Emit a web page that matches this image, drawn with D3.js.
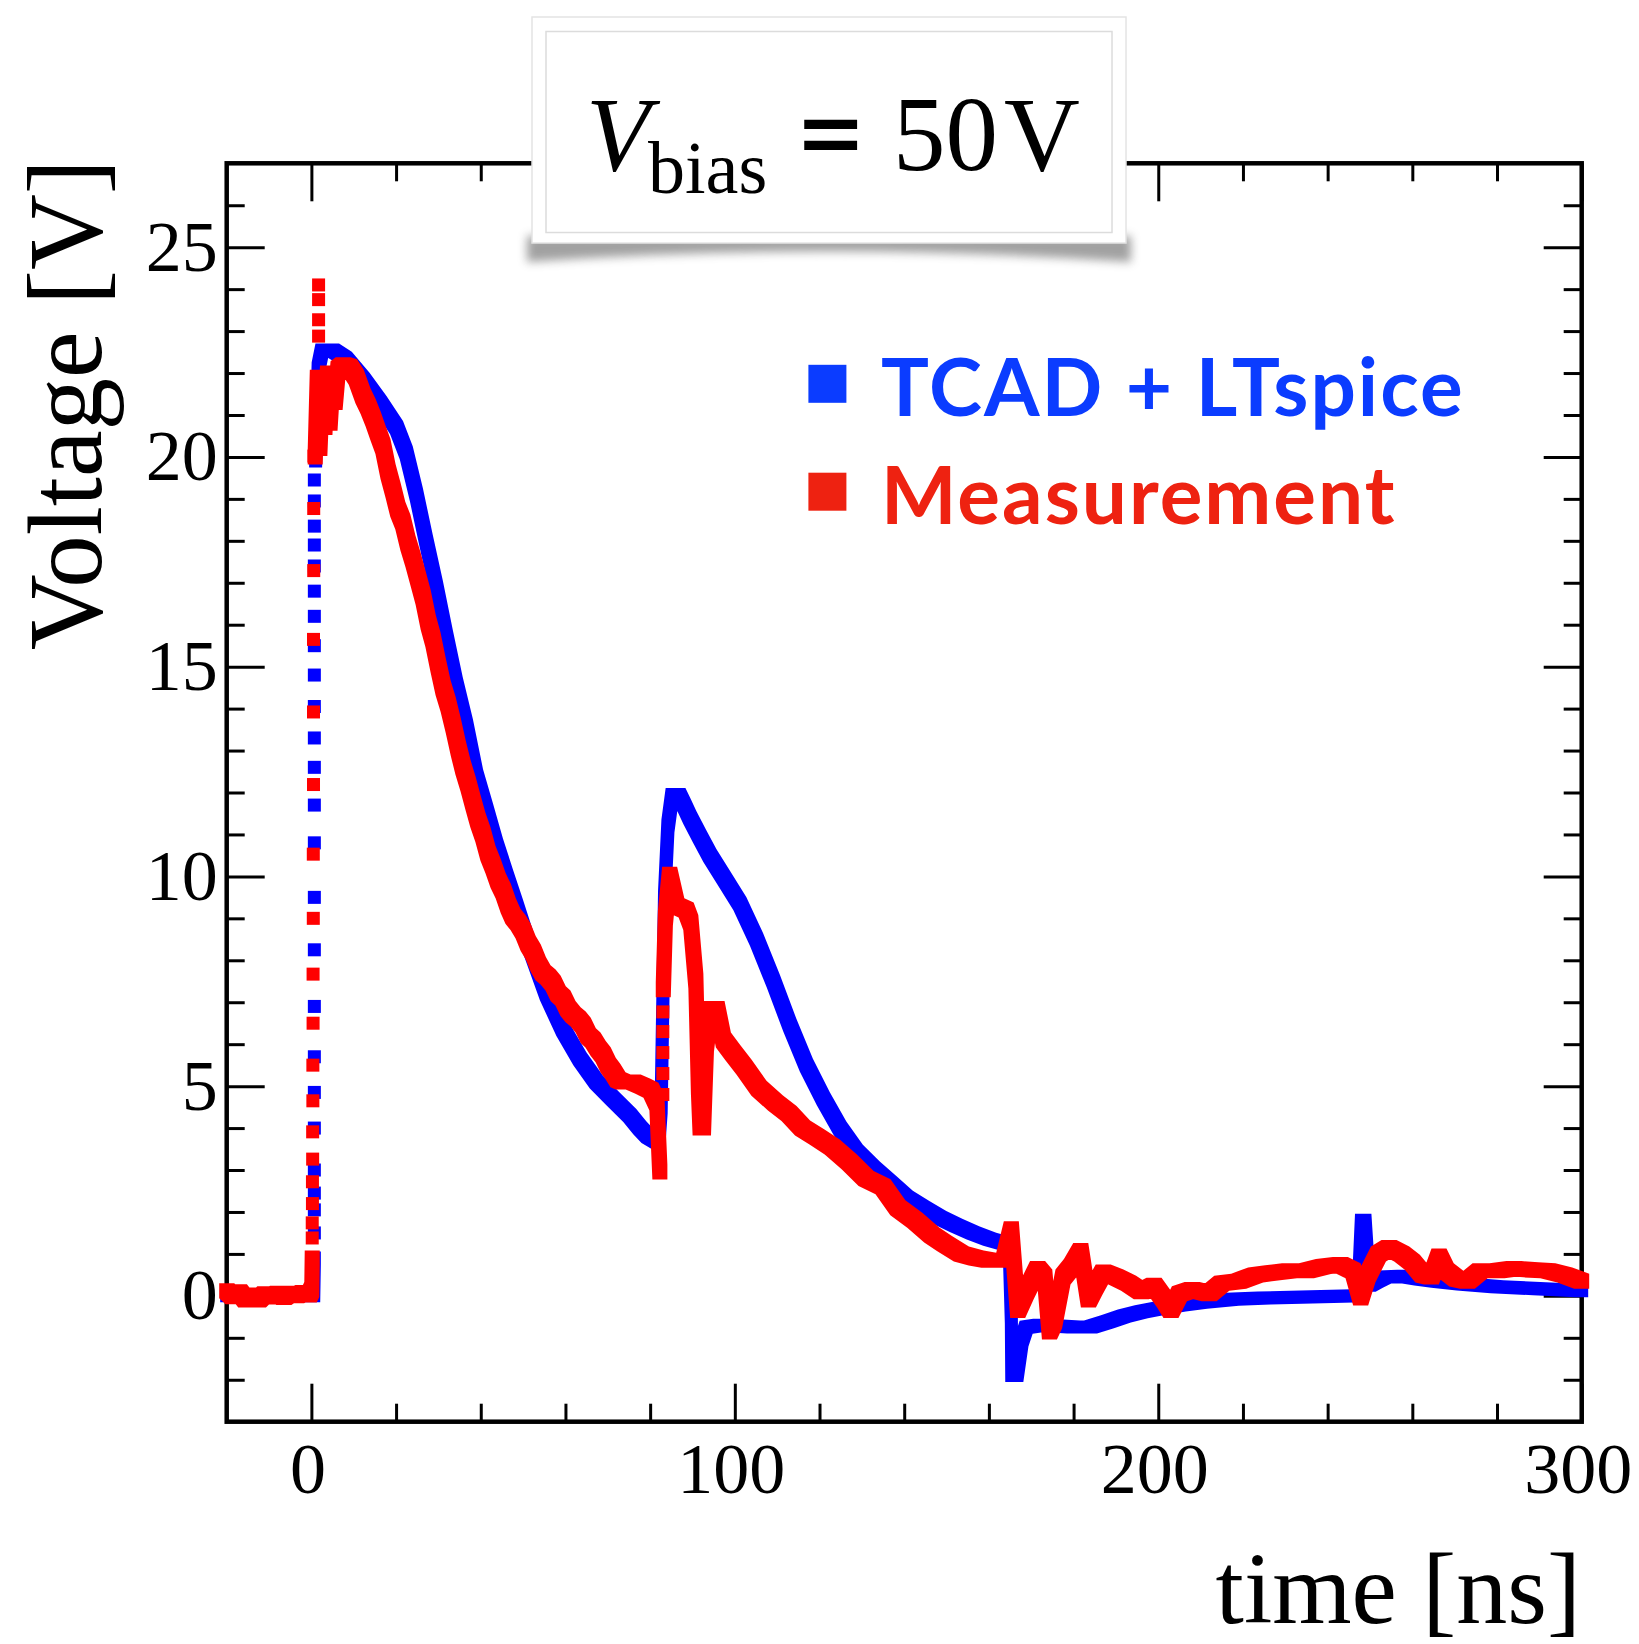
<!DOCTYPE html>
<html>
<head>
<meta charset="utf-8">
<script src="https://cdn.jsdelivr.net/npm/d3@7"></script>
<style>
  body { margin: 0; background: #fff; }
</style>
</head>
<body>
<div id="chart"></div>
<script>
// axis ranges and tick labels
const timeRange = [-20, 300];      // ns
const voltRange = [-3, 27];        // V
const xMajorTicks = [0, 100, 200, 300];
const yMajorTicks = [0, 5, 10, 15, 20, 25];

const legendLabels = ["TCAD + LTspice", "Measurement"];
const titleParts = ["V", "bias", "=", "50", "V"];

// simulation, [time ns, voltage V]; null = gap in the trace
const tcadCurve = [
  [-20, 0.0], [0.55, 0.0], [0.7, 0.9], null,
  [1.0, 19.9], [1.6, 22.1], [2.5, 22.55], [5.0, 22.55], [8.0, 22.35], [12.2, 21.85],
  [16.2, 21.3], [20.1, 20.7], [22.4, 20.1], [24.8, 19.1], [27.1, 18.0], [29.5, 16.9],
  [31.9, 15.7], [34.2, 14.6], [36.6, 13.6], [39.0, 12.4], [41.3, 11.6], [43.7, 10.75],
  [46.1, 10.0], [48.4, 9.3], [51.6, 8.3], [55.5, 7.2], [59.4, 6.35], [63.4, 5.65],
  [67.3, 5.1], [71.2, 4.7], [75.2, 4.3], [77.6, 4.0], [79.5, 3.8], [82.0, 3.65],
  [82.6, 4.5], [83.0, 7.0], [83.4, 9.5], [84.2, 11.2], [85.2, 11.95], [86.8, 11.95],
  [88.0, 11.7], [89.4, 11.4], [91.7, 10.95], [94.1, 10.5], [97.2, 10.0], [101.2, 9.35],
  [105.1, 8.5], [109.1, 7.5], [113.0, 6.45], [116.9, 5.5], [120.9, 4.7], [124.8, 4.0],
  [128.7, 3.45], [132.7, 3.05], [136.6, 2.7], [140.5, 2.35], [144.5, 2.1], [148.4, 1.87],
  [152.3, 1.68], [156.3, 1.5], [160.2, 1.35], [164.8, 1.22], [165.3, -0.5], [165.4, -1.9],
  [166.6, -1.9], [167.8, -1.05], [168.8, -0.75], [172, -0.7], [176, -0.72], [180, -0.74],
  [184, -0.74], [188, -0.62], [192, -0.48], [196, -0.38], [200, -0.3], [205, -0.22],
  [210, -0.15], [217.5, -0.08], [225, -0.05], [235, -0.03], [247.2, 0.0], [248.0, 1.8],
  [248.8, 1.8], [249.8, 0.25], [251.5, 0.35], [253.5, 0.45], [258, 0.47], [262, 0.4],
  [266, 0.35], [272, 0.28], [280, 0.22], [290, 0.17], [300, 0.12]
];

// single simulation samples on the fast edge at t = 0
const tcadSteps = [
  [0.7, 1.5], [0.7, 2.05], [0.7, 2.45], [0.7, 3.0], [0.7, 4.0], [0.7, 4.85], [0.7, 5.7],
  [0.7, 6.9], [0.7, 8.25], [0.7, 9.5], [0.7, 10.8], [0.7, 11.7], [0.7, 12.6], [0.7, 13.3],
  [0.7, 14.05], [0.7, 14.8], [0.7, 15.5], [0.7, 16.2], [0.7, 16.8], [0.7, 17.4],
  [0.7, 17.9], [0.7, 18.35], [0.7, 18.95], [0.7, 19.45]
];

// measurement, [time ns, voltage V]
const measCurve = [
  [-20, 0.12], [-18.5, -0.02], [-17, 0.1], [-15.5, -0.1], [-14, 0.02], [-12.5, -0.1],
  [-11, 0.05], [-9.5, -0.03], [-8, 0.06], [-6.5, -0.04], [-5, 0.06], [-3.5, 0.0],
  [-2, 0.08], [-0.5, 0.02], [0.1, 0.15], [0.2, 0.9], null,
  [0.9, 20.0], [1.4, 21.9], [2.0, 20.2], [2.6, 21.7], [3.2, 20.7], [3.8, 22.0], [4.4, 20.8],
  [5.0, 21.8], [5.6, 21.3], [6.3, 22.1], [7.5, 22.2], [9.0, 22.15], [10.6, 21.9],
  [12.2, 21.45], [13.4, 21.2], [14.6, 20.9], [15.8, 20.55], [16.9, 20.25], [18.1, 19.65],
  [19.3, 19.2], [20.4, 18.75], [21.6, 18.45], [22.8, 17.95], [24.0, 17.55], [25.2, 17.1],
  [26.4, 16.65], [27.6, 16.05], [28.7, 15.65], [29.9, 15.05], [31.1, 14.5], [32.3, 14.1],
  [33.5, 13.6], [34.7, 13.05], [35.8, 12.6], [37.0, 12.2], [38.2, 11.75], [39.3, 11.35],
  [40.5, 11.0], [41.7, 10.55], [42.9, 10.25], [44.1, 9.9], [45.3, 9.65], [46.5, 9.3],
  [47.6, 9.05], [48.8, 8.9], [50.0, 8.7], [51.2, 8.4], [52.4, 8.2], [53.6, 7.9],
  [54.7, 7.7], [55.9, 7.6], [57.1, 7.45], [58.3, 7.2], [59.4, 7.1], [60.6, 6.85],
  [61.8, 6.7], [63.0, 6.6], [64.2, 6.45], [65.4, 6.2], [66.5, 6.1], [67.7, 5.9],
  [68.9, 5.75], [70.1, 5.5], [71.2, 5.35], [72.4, 5.15], [73.6, 5.1], [76.0, 5.1],
  [78.3, 5.0], [80.2, 4.9], [81.6, 4.6], [82.3, 2.95], null,
  [83.1, 7.3], [83.6, 9.0], [84.6, 10.05], [86.3, 9.3], [88.5, 9.2], [89.6, 8.9],
  [90.8, 7.5], [91.4, 5.0], [91.8, 4.0], [92.6, 4.0], [93.3, 6.0], [94.3, 6.85],
  [95.8, 6.85], [97.3, 6.1], [99.5, 5.8], [102.2, 5.45], [105.7, 4.95], [109.6, 4.6],
  [112.8, 4.35], [116, 4.0], [119.5, 3.78], [123, 3.55], [127, 3.2], [131, 2.8],
  [135, 2.6], [138.5, 2.1], [142.5, 1.8], [146.5, 1.45], [149.5, 1.25], [153.5, 1.0],
  [157, 0.9], [160, 0.85], [163.5, 0.85], [165.3, 1.6], [166.8, -0.35], [168.8, 0.1],
  [171.5, 0.65], [173.2, 0.45], [174.3, -0.86], [175.5, -0.6], [177.5, 0.45], [179.5, 0.7],
  [181.7, 1.08], [183.5, -0.1], [185, 0.2], [187, 0.57], [190, 0.45], [193, 0.3],
  [196, 0.1], [199, 0.25], [201.5, -0.1], [203, -0.35], [205, 0.05], [208, 0.15],
  [212, 0.05], [215, 0.3], [219, 0.35], [223, 0.5], [227, 0.55], [231, 0.6], [235, 0.6],
  [239, 0.7], [243, 0.75], [246, 0.6], [247.8, -0.05], [249.5, 0.5], [252, 1.0],
  [254.5, 1.15], [257.5, 1.0], [260, 0.8], [262.5, 0.5], [264.5, 0.45], [266.3, 0.95],
  [268, 0.6], [270.5, 0.4], [273, 0.35], [276, 0.6], [280, 0.6], [284, 0.65], [288, 0.62],
  [292, 0.6], [296, 0.5], [300, 0.35]
];

// single measured samples on the fast edges
const measSteps = [
  [0.2, 1.38], [0.2, 1.74], [0.25, 2.2], [0.25, 2.72], [0.3, 3.26], [0.3, 3.91],
  [0.35, 4.65], [0.35, 5.5], [0.4, 6.5], [0.4, 7.67], [0.45, 9.0], [0.45, 10.53],
  [0.5, 12.19], [0.5, 13.92], [0.5, 15.65], [0.55, 17.29], [0.55, 18.77], [0.6, 20.02],
  [1.7, 22.88], [1.7, 23.27], [1.7, 23.75], [1.7, 24.1],
  [83.0, 4.8], [83.0, 5.3], [83.0, 5.8], [83.0, 6.3], [83.0, 6.77]
];

const width = 1639;
const height = 1644;
const frame = { left: 226.7, right: 1581.7, top: 163.3, bottom: 1421.7 };
const markerSize = 13;
const serif = "'Liberation Serif', 'Times New Roman', serif";

const svg = d3.select("#chart").append("svg")
  .attr("width", width)
  .attr("height", height)
  .style("display", "block");

svg.append("rect").attr("width", width).attr("height", height).attr("fill", "#fff");

const x = d3.scaleLinear().domain(timeRange).range([frame.left, frame.right]);
const y = d3.scaleLinear().domain(voltRange).range([frame.bottom, frame.top]);

const xMinorTicks = d3.range(timeRange[0] + 20, timeRange[1], 20).filter(d => xMajorTicks.indexOf(d) < 0);
const yMinorTicks = d3.range(voltRange[0] + 1, voltRange[1], 1).filter(d => yMajorTicks.indexOf(d) < 0);

// ROOT style: ticks point into the frame on all four sides
function tickAxis(axis, tx, ty) {
  var g = svg.append("g")
    .attr("transform", "translate(" + tx + "," + ty + ")")
    .call(axis);
  g.select(".domain").remove();
  g.selectAll(".tick line").attr("stroke", "#000").attr("stroke-width", 3);
  g.attr("font-family", serif).attr("font-size", 72);
  g.selectAll(".tick text").attr("fill", "#000");
  return g;
}

var xLabels = tickAxis(d3.axisBottom(x).tickValues(xMajorTicks).tickSize(-38).tickPadding(20).tickFormat(d3.format("d")), 0, frame.bottom);
xLabels.selectAll(".tick text").attr("x", -4);
tickAxis(d3.axisBottom(x).tickValues(xMinorTicks).tickSize(-18).tickFormat(""), 0, frame.bottom);
tickAxis(d3.axisTop(x).tickValues(xMajorTicks).tickSize(-38).tickFormat(""), 0, frame.top);
tickAxis(d3.axisTop(x).tickValues(xMinorTicks).tickSize(-18).tickFormat(""), 0, frame.top);
tickAxis(d3.axisLeft(y).tickValues(yMajorTicks).tickSize(-38).tickPadding(9).tickFormat(d3.format("d")), frame.left, 0);
tickAxis(d3.axisLeft(y).tickValues(yMinorTicks).tickSize(-18).tickFormat(""), frame.left, 0);
tickAxis(d3.axisRight(y).tickValues(yMajorTicks).tickSize(-38).tickFormat(""), frame.right, 0);
tickAxis(d3.axisRight(y).tickValues(yMinorTicks).tickSize(-18).tickFormat(""), frame.right, 0);

svg.append("rect")
  .attr("x", frame.left)
  .attr("y", frame.top)
  .attr("width", frame.right - frame.left)
  .attr("height", frame.bottom - frame.top)
  .attr("fill", "none")
  .attr("stroke", "#000")
  .attr("stroke-width", 4.5);

// axis titles
svg.append("text")
  .attr("transform", "translate(101," + (frame.top - 4) + ") rotate(-90)")
  .attr("text-anchor", "end")
  .attr("font-family", serif)
  .attr("font-size", 105)
  .text("Voltage [V]");

svg.append("text")
  .attr("x", 1581)
  .attr("y", 1623)
  .attr("text-anchor", "end")
  .attr("font-family", serif)
  .attr("font-size", 102)
  .text("time [ns]");

// the traces are dense square markers, so each segment is drawn as a
// square swept from one sample to the next
function sweptSquares(points, size) {
  var h = size / 2;
  var runs = [], run = [];
  points.forEach(function (p) {
    if (p === null) {
      if (run.length) runs.push(run);
      run = [];
    } else {
      run.push([x(p[0]), y(p[1])]);
    }
  });
  if (run.length) runs.push(run);

  var d = "";
  runs.forEach(function (r) {
    if (r.length === 1) r = [r[0], r[0]];
    for (var i = 1; i < r.length; i++) {
      var corners = [];
      [r[i - 1], r[i]].forEach(function (c) {
        corners.push([c[0] - h, c[1] - h], [c[0] + h, c[1] - h],
                     [c[0] + h, c[1] + h], [c[0] - h, c[1] + h]);
      });
      var hull = d3.polygonHull(corners);
      d += "M" + hull.map(function (q) { return q[0].toFixed(2) + "," + q[1].toFixed(2); }).join("L") + "Z";
    }
  });
  return d;
}

// the noisy measurement smears into a slightly wider band
function drawSeries(curve, steps, color, bandSize) {
  svg.append("path")
    .attr("d", sweptSquares(curve, bandSize))
    .attr("fill", color);
  svg.append("g").selectAll("rect")
    .data(steps)
    .enter().append("rect")
    .attr("x", d => x(d[0]) - markerSize / 2)
    .attr("y", d => y(d[1]) - markerSize / 2)
    .attr("width", markerSize)
    .attr("height", markerSize)
    .attr("fill", color);
}

drawSeries(tcadCurve, tcadSteps, "#0000ff", 13);
drawSeries(measCurve, measSteps, "#ff0000", 15);

// legend
const legendColors = ["#0b3cff", "#ee2211"];
const legendRows = [383.8, 491.7];
legendLabels.forEach(function (label, i) {
  svg.append("rect")
    .attr("x", 808.4)
    .attr("y", legendRows[i] - 19)
    .attr("width", 38)
    .attr("height", 38)
    .attr("fill", legendColors[i]);
  svg.append("text")
    .attr("x", 881)
    .attr("y", legendRows[i] + 32.5)
    .attr("font-family", "Lato, 'Open Sans', sans-serif")
    .attr("font-weight", 700)
    .attr("font-size", 80)
    .attr("letter-spacing", 2)
    .attr("fill", legendColors[i])
    .text(label);
});

// title box with a curled drop shadow
const defs = svg.append("defs");
defs.append("filter")
  .attr("id", "soft")
  .attr("x", "-10%").attr("y", "-50%").attr("width", "120%").attr("height", "200%")
  .append("feGaussianBlur").attr("stdDeviation", 5);

svg.append("path")
  .attr("d", "M527,236 L1131,236 L1131,262 Q829,241 527,262 Z")
  .attr("fill", "#555")
  .attr("opacity", 0.55)
  .attr("filter", "url(#soft)");

svg.append("rect")
  .attr("x", 532).attr("y", 17)
  .attr("width", 594).attr("height", 226)
  .attr("fill", "#fff")
  .attr("stroke", "#e4e4e4")
  .attr("stroke-width", 1.5);

svg.append("rect")
  .attr("x", 546).attr("y", 31.5)
  .attr("width", 566).attr("height", 201)
  .attr("fill", "none")
  .attr("stroke", "#dcdcdc")
  .attr("stroke-width", 1.5);

const title = svg.append("text")
  .attr("y", 170)
  .attr("font-family", serif)
  .attr("font-size", 105);
title.append("tspan").attr("x", 586).attr("font-style", "italic").text(titleParts[0]);
title.append("tspan").attr("x", 648).attr("y", 193).attr("font-size", 74).text(titleParts[1]);
title.append("tspan").attr("x", 801).attr("y", 170)
  .attr("stroke", "#000").attr("stroke-width", 4).text(titleParts[2]);
title.append("tspan").attr("x", 893).text(titleParts[3]);
title.append("tspan").attr("x", 1004).text(titleParts[4]);
</script>
</body>
</html>
